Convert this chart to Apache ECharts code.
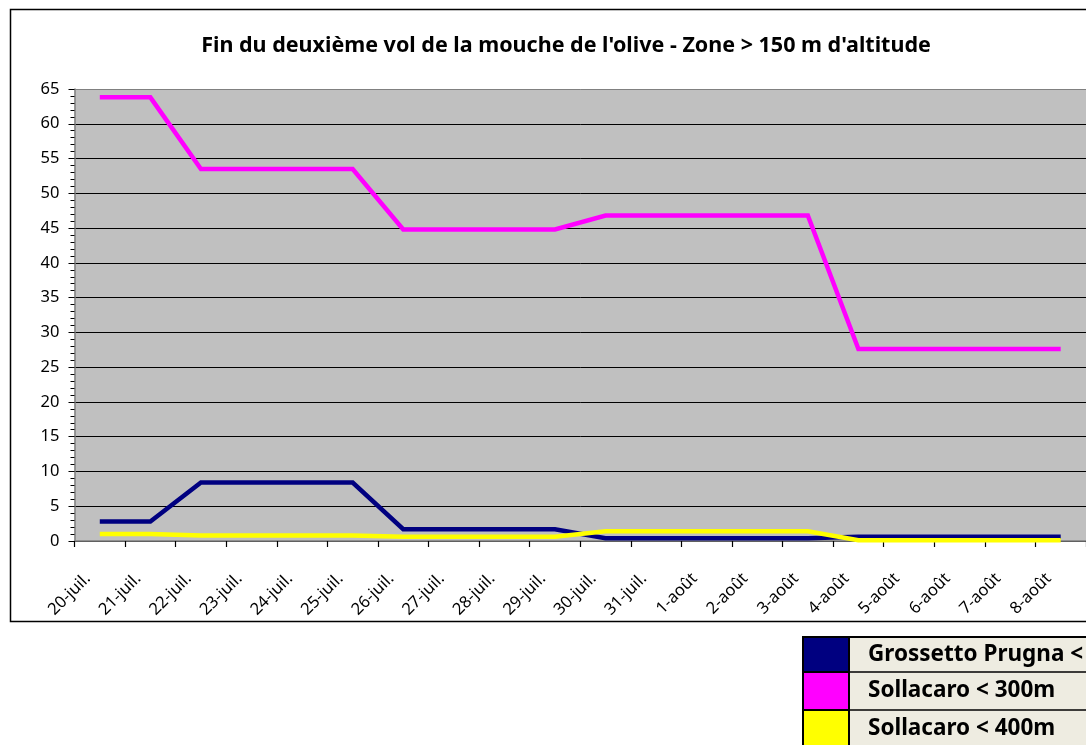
<!DOCTYPE html>
<html>
<head>
<meta charset="utf-8">
<script src="https://cdn.jsdelivr.net/npm/echarts@6/dist/echarts.min.js"></script>
<style>
html,body{margin:0;padding:0;background:#fff;}
#chart{width:1086px;height:745px;}
</style>
</head>
<body>
<div id="chart"></div>
<script>
var titleText = "Fin du deuxième vol de la mouche de l'olive - Zone > 150 m d'altitude";
var categories = ['20-juil.','21-juil.','22-juil.','23-juil.','24-juil.','25-juil.','26-juil.','27-juil.','28-juil.','29-juil.','30-juil.','31-juil.','1-août','2-août','3-août','4-août','5-août','6-août','7-août','8-août'];
var seriesNames = ['Grossetto Prugna <', 'Sollacaro < 300m', 'Sollacaro < 400m'];
var seriesColors = ['#000080', '#ff00ff', '#ffff00'];
var grossetto = [2.8,2.8,8.4,8.4,8.4,8.4,1.7,1.7,1.7,1.7,0.4,0.4,0.4,0.4,0.4,0.6,0.6,0.6,0.6,0.6];
var sollacaro300 = [63.8,63.8,53.5,53.5,53.5,53.5,44.8,44.8,44.8,44.8,46.8,46.8,46.8,46.8,46.8,27.6,27.6,27.6,27.6,27.6];
var sollacaro400 = [1.0,1.0,0.8,0.8,0.8,0.8,0.6,0.6,0.6,0.6,1.4,1.4,1.4,1.4,1.4,0.1,0.1,0.1,0.1,0.1];
var yMin = 0, yMax = 65, yStep = 5;

var FONT = "'Noto Sans', 'Open Sans', sans-serif";
var chart = echarts.init(document.getElementById('chart'));

var seriesData = [grossetto, sollacaro300, sollacaro400];
var series = seriesData.map(function (d, i) {
  return {
    name: seriesNames[i],
    type: 'line',
    data: d,
    symbol: 'none',
    smooth: false,
    z: 3 + i,
    lineStyle: { color: seriesColors[i], width: 4.5, join: 'miter' },
    itemStyle: { color: seriesColors[i] }
  };
});

var nLines = (yMax - yMin) / yStep + 1;
var splitColors = [];
for (var k = 0; k < nLines; k++) splitColors.push(k === nLines - 1 ? '#808080' : '#000000');

// legend table (graphic)
var legendX = 803, legendTop = 637, rowH = [35, 38, 38], sqW = 46;
var legendGraphics = [];
var yCur = legendTop;
legendGraphics.push({
  type: 'rect', shape: { x: legendX, y: legendTop, width: 400, height: 130, r: [4, 0, 0, 0] },
  style: { fill: '#eeece1', stroke: '#000', lineWidth: 2 }, z: 10
});
for (var r = 0; r < seriesNames.length; r++) {
  legendGraphics.push({
    type: 'rect', shape: { x: legendX, y: yCur, width: sqW, height: rowH[r] },
    style: { fill: seriesColors[r], stroke: '#000', lineWidth: 2 }, z: 11
  });
  if (r > 0) {
    legendGraphics.push({
      type: 'line', shape: { x1: legendX + sqW, y1: yCur, x2: 1100, y2: yCur },
      style: { stroke: '#000', lineWidth: 1.5 }, z: 11
    });
  }
  legendGraphics.push({
    type: 'text', x: 868, y: yCur + rowH[r] / 2,
    style: { text: seriesNames[r], font: 'bold 22.5px ' + FONT, fill: '#000', verticalAlign: 'middle', textAlign: 'left' },
    z: 12
  });
  yCur += rowH[r];
}

var option = {
  backgroundColor: '#ffffff',
  animation: false,
  title: {
    text: titleText,
    left: 561,
    top: 30,
    textAlign: 'center',
    textStyle: { fontFamily: FONT, fontWeight: 'bold', fontSize: 21.5, color: '#000' }
  },
  grid: {
    left: 74.5, top: 89, right: -5, bottom: 204,
    show: true, backgroundColor: '#c0c0c0', borderWidth: 0,
    containLabel: false
  },
  xAxis: {
    type: 'category',
    data: categories,
    boundaryGap: true,
    axisLine: { show: true, lineStyle: { color: '#808080', width: 1.5 } },
    axisTick: { show: true, length: 6, lineStyle: { color: '#000', width: 1.2 } },
    axisLabel: {
      interval: 0, rotate: 45, margin: 23,
      padding: [0, 17, 0, 0],
      fontFamily: FONT, fontSize: 16.5, color: '#000'
    },
    splitLine: { show: false }
  },
  yAxis: {
    type: 'value',
    min: yMin, max: yMax, interval: yStep,
    axisLine: { show: true, lineStyle: { color: '#808080', width: 1.5 } },
    axisTick: { show: true, length: 6, lineStyle: { color: '#000', width: 1 } },
    minorTick: { show: true, splitNumber: 5, length: 4, lineStyle: { color: '#000', width: 1 } },
    axisLabel: { margin: 15, fontFamily: FONT, fontSize: 16.5, color: '#000' },
    splitLine: { show: true, lineStyle: { color: splitColors, width: 1 } }
  },
  series: series,
  graphic: [
    {
      type: 'rect', shape: { x: 10.5, y: 9.5, width: 1200, height: 612 },
      style: { fill: 'none', stroke: '#000', lineWidth: 1.5 }, z: 0, silent: true
    }
  ].concat(legendGraphics)
};
chart.setOption(option);
</script>
</body>
</html>
